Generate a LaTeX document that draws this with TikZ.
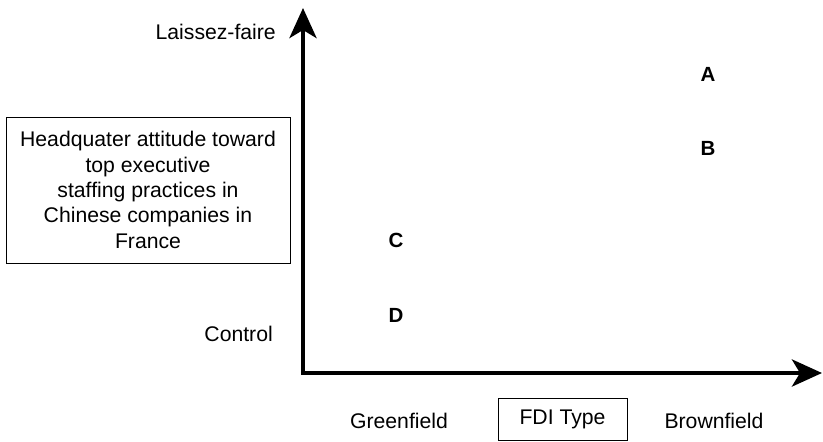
\documentclass[tikz,border=0pt]{standalone}
\usepackage{fontspec}
\setmainfont{Liberation Sans}
\usetikzlibrary{arrows.meta}
\begin{document}
\begin{tikzpicture}[x=1pt,y=-1pt,
  font=\fontsize{21.2}{25.3}\selectfont,
  lbl/.style={inner sep=0pt},
  letter/.style={inner sep=0pt,font=\fontsize{20.5}{25}\selectfont\bfseries},
  axis/.style={line width=4.6pt,line join=miter,
    {Stealth[length=30pt,width=27pt,inset=8pt]}-{Stealth[length=30pt,width=27pt,inset=8pt]}},
  frame/.style={draw,line width=0.9pt,align=center}]
\useasboundingbox (0,0) rectangle (823,442);
% axes
\coordinate (ytip) at (303,8);
\coordinate (O) at (303,373);
\coordinate (xtip) at (822,373);
\draw[axis] (ytip) -- (O) -- (xtip);
% axis labels
\node[lbl,anchor=base east] (lf) at (276,39) {Laissez-faire};
\node[lbl,anchor=base east] (ctrl) at (273,341) {Control};
\node[lbl,anchor=base] (green) at (399,428) {Greenfield};
\node[lbl,anchor=base] (brown) at (714,428) {Brownfield};
\node[frame,minimum width=129pt,minimum height=42pt,inner sep=0pt] (fdi) at (562.5,419.5) {FDI Type};
% box
\node[frame,minimum width=284pt,minimum height=146pt] (hq) at (148,190)
  {Headquater attitude toward\\top executive\\staffing practices in\\Chinese companies in\\France};
% points
\node[letter,anchor=base] (A) at (708,81) {A};
\node[letter,anchor=base] (B) at (708,155) {B};
\node[letter,anchor=base] (C) at (396,247) {C};
\node[letter,anchor=base] (D) at (396,322) {D};
\end{tikzpicture}
\end{document}
